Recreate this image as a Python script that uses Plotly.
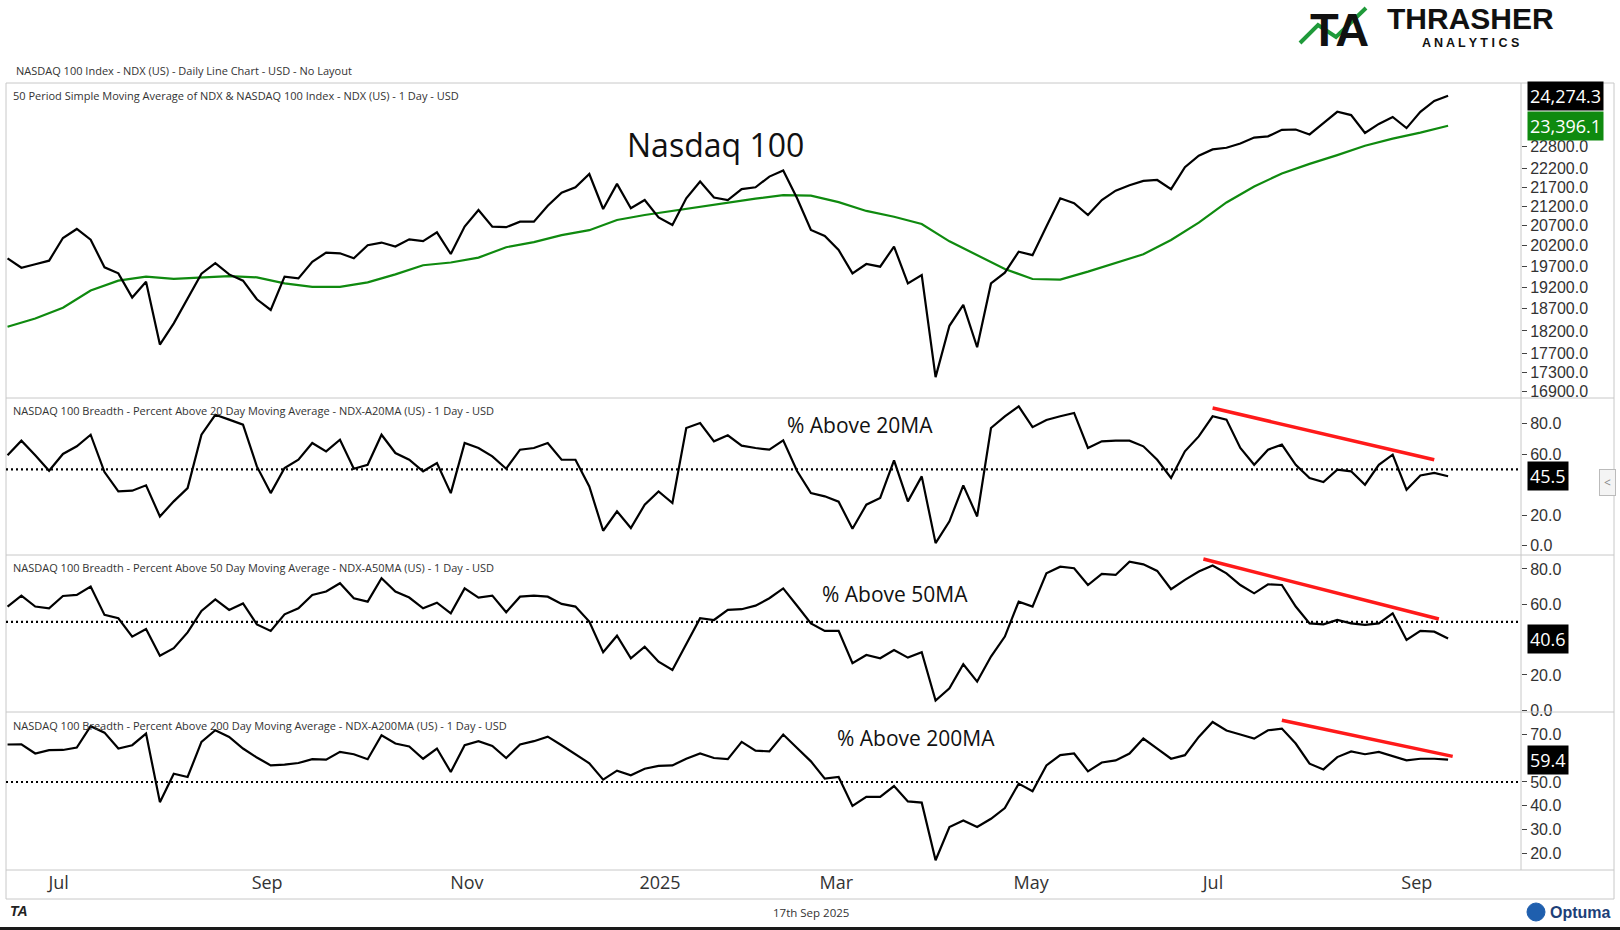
import math
import pandas as pd
import plotly.graph_objects as go
from plotly.subplots import make_subplots

# ---------------- data ----------------
holidays = ["2024-06-19", "2024-07-04", "2024-09-02", "2024-11-28", "2024-12-25",
            "2025-01-01", "2025-01-09", "2025-01-20", "2025-02-17", "2025-04-18",
            "2025-05-26", "2025-06-19", "2025-07-04", "2025-09-01"]
first_day = "2024-06-18"
last_day = "2025-09-17"
trading_days = pd.bdate_range(first_day, last_day, freq="C", holidays=holidays)
dates = trading_days[::3]          # one reading every 3 sessions
sma_dates = trading_days[::6]      # one reading every 6 sessions

ndx = [19893, 19665, 19748, 19835, 20394, 20620, 20350, 19675, 19530, 18960,
       19330, 17900, 18370, 18935, 19520, 19775, 19505, 19355, 18920, 18673,
       19450, 19410, 19810, 20030, 20015, 19893, 20215, 20280, 20180, 20360,
       20315, 20535, 19997, 20680, 21105, 20680, 20665, 20805, 20805, 21215,
       21555, 21700, 22055, 21130, 21790, 21150, 21364, 20915, 20720, 21410,
       21855, 21430, 21364, 21650, 21700, 21985, 22150, 21410, 20594, 20445,
       20096, 19530, 19755, 19690, 20180, 19290, 19490, 17200, 18315, 18790,
       17840, 19290, 19545, 20055, 19970, 20680, 21410, 21280, 20975, 21364,
       21610, 21755, 21870, 21894, 21650, 22240, 22555, 22730, 22775, 22895,
       23060, 23095, 23280, 23290, 23150, 23470, 23800, 23705, 23190, 23450,
       23650, 23330, 23800, 24120, 24274.3]

ndx_sma50 = [18295, 18480, 18725, 19125, 19355, 19450, 19400, 19435, 19465, 19435,
             19290, 19210, 19210, 19315, 19505, 19725, 19790, 19910, 20165, 20290,
             20465, 20590, 20848, 20975, 21080, 21205, 21310, 21400, 21490, 21480,
             21310, 21080, 20930, 20745, 20310, 19965, 19635, 19395, 19380, 19570,
             19775, 19990, 20343, 20780, 21300, 21720, 22070, 22330, 22570, 22830,
             23030, 23200, 23396.1]

pct_above_20 = [59.2, 68.8, 59.2, 49.1, 60.1, 65.1, 72.7, 48.2, 35.5, 36.0,
                39.5, 19.1, 29.0, 37.7, 72.7, 85.8, 82.6, 79.3, 51.9, 34.4,
                50.9, 56.3, 67.3, 61.8, 69.4, 50.4, 53.0, 72.7, 60.7, 56.3,
                48.7, 54.1, 34.4, 67.3, 64.0, 58.5, 50.4, 62.9, 64.0, 67.3,
                56.3, 56.3, 38.8, 9.7, 22.4, 11.5, 26.8, 35.5, 27.9, 77.1,
                80.4, 68.4, 72.3, 65.5, 64.0, 62.9, 69.0, 48.9, 34.4, 32.3,
                28.8, 11.0, 26.8, 31.2, 55.9, 29.0, 45.4, 1.6, 15.9, 39.5,
                19.1, 77.1, 84.8, 91.3, 77.7, 82.4, 84.8, 87.0, 64.0, 68.4,
                68.8, 68.8, 65.1, 56.3, 44.3, 61.8, 71.6, 84.8, 82.6, 64.0,
                53.0, 62.9, 66.2, 53.0, 44.3, 41.7, 49.8, 48.7, 39.9, 53.0,
                59.6, 36.6, 46.0, 47.6, 45.5]

pct_above_50 = [58.7, 64.9, 58.7, 57.7, 64.7, 65.3, 70.0, 54.0, 52.1, 41.7,
                46.0, 30.9, 35.1, 44.1, 56.2, 62.8, 56.8, 60.5, 48.6, 44.9,
                54.3, 57.7, 65.3, 67.2, 71.9, 63.4, 61.5, 74.7, 67.2, 63.8,
                57.7, 60.9, 54.9, 69.0, 63.8, 64.9, 55.5, 64.3, 64.9, 64.3,
                60.2, 58.7, 50.2, 32.8, 42.2, 29.4, 36.0, 27.5, 22.8, 37.9,
                52.1, 51.1, 56.8, 57.2, 59.2, 63.4, 69.0, 59.2, 49.2, 44.9,
                44.9, 26.6, 31.3, 29.4, 34.1, 29.8, 32.8, 5.5, 12.4, 26.0,
                16.2, 30.4, 41.7, 61.5, 58.7, 77.5, 81.3, 80.4, 70.9, 77.2,
                76.6, 84.1, 82.6, 78.9, 68.5, 73.8, 78.5, 81.9, 77.5, 70.9,
                66.2, 71.3, 70.9, 58.7, 49.2, 48.6, 51.1, 49.2, 48.3, 49.2,
                54.9, 39.8, 44.9, 44.5, 40.6]

pct_above_200 = [65.8, 65.9, 62.0, 63.4, 63.5, 64.5, 73.5, 70.8, 64.1, 65.5,
                 70.4, 41.5, 53.5, 52.1, 66.9, 71.8, 69.0, 64.1, 60.3, 57.0,
                 57.3, 58.0, 59.6, 59.4, 62.7, 61.7, 59.6, 69.7, 66.2, 65.0,
                 59.8, 64.1, 54.2, 65.5, 67.2, 65.2, 60.1, 65.8, 67.2, 69.1,
                 65.5, 61.8, 57.9, 51.0, 54.8, 52.8, 55.6, 56.8, 57.0, 59.8,
                 62.0, 60.1, 59.6, 66.9, 63.2, 62.9, 70.0, 64.3, 58.7, 51.4,
                 52.1, 39.9, 43.7, 43.7, 48.3, 41.8, 41.3, 17.0, 31.0, 33.8,
                 31.0, 34.5, 39.0, 49.3, 46.1, 57.0, 61.3, 62.0, 54.5, 58.2,
                 59.1, 62.0, 68.3, 64.1, 59.8, 61.3, 69.0, 75.3, 71.7, 70.0,
                 68.3, 71.8, 72.5, 66.2, 57.7, 55.3, 60.5, 62.9, 61.7, 62.7,
                 61.0, 59.1, 59.8, 59.8, 59.4]

# red trend lines (date, value)
trend20_x = ["2025-07-07", "2025-09-12"]
trend20_y = [90.2, 56.3]
trend50_x = ["2025-07-02", "2025-09-15"]
trend50_y = [85.6, 51.7]
trend200_x = ["2025-07-28", "2025-09-18"]
trend200_y = [76.0, 60.8]

price_ticks = [16900, 17300, 17700, 18200, 18700, 19200, 19700, 20200, 20700,
               21200, 21700, 22200, 22800]
pct20_ticks = [0, 20, 60, 80]
pct50_ticks = [0, 20, 60, 80]
pct200_ticks = [20, 30, 40, 50, 70]
month_ticks = ["2024-07-01", "2024-09-03", "2024-11-01", "2025-01-02",
               "2025-03-03", "2025-05-01", "2025-07-01", "2025-09-02"]
month_labels = ["Jul", "Sep", "Nov", "2025", "Mar", "May", "Jul", "Sep"]

# ---------------- figure ----------------
FONT = "Open Sans"
TICKFONT = "Liberation Sans"
W, H = 1620, 930
L, R, T, B = 6, 99, 83, 60
plot_w = W - L - R
plot_h = H - T - B

def px(xpix):
    return (xpix - L) / plot_w

def py(ypix):
    return (H - B - ypix) / plot_h

fig = make_subplots(rows=4, cols=1, shared_xaxes=True, vertical_spacing=0,
                    row_heights=[315, 157, 157, 158])

fig.add_trace(go.Scatter(x=sma_dates, y=ndx_sma50, mode="lines",
                         line=dict(color="#0f8a0f", width=2.2), hoverinfo="skip"), row=1, col=1)
fig.add_trace(go.Scatter(x=dates, y=ndx, mode="lines",
                         line=dict(color="black", width=2.2), hoverinfo="skip"), row=1, col=1)

fig.add_trace(go.Scatter(x=dates, y=pct_above_20, mode="lines",
                         line=dict(color="black", width=2.2), hoverinfo="skip"), row=2, col=1)
fig.add_trace(go.Scatter(x=trend20_x, y=trend20_y, mode="lines",
                         line=dict(color="#ff1a1a", width=3.5), hoverinfo="skip"), row=2, col=1)

fig.add_trace(go.Scatter(x=dates, y=pct_above_50, mode="lines",
                         line=dict(color="black", width=2.2), hoverinfo="skip"), row=3, col=1)
fig.add_trace(go.Scatter(x=trend50_x, y=trend50_y, mode="lines",
                         line=dict(color="#ff1a1a", width=3.5), hoverinfo="skip"), row=3, col=1)

fig.add_trace(go.Scatter(x=dates, y=pct_above_200, mode="lines",
                         line=dict(color="black", width=2.2), hoverinfo="skip"), row=4, col=1)
fig.add_trace(go.Scatter(x=trend200_x, y=trend200_y, mode="lines",
                         line=dict(color="#ff1a1a", width=3.5), hoverinfo="skip"), row=4, col=1)

fig.update_layout(
    width=W, height=H,
    margin=dict(l=L, r=R, t=T, b=B),
    paper_bgcolor="white", plot_bgcolor="white",
    showlegend=False,
    font=dict(family=FONT, color="#333333"),
)

x_range = ["2024-06-17 16:00", "2025-10-08 19:00"]
fig.update_xaxes(type="date", range=x_range,
                 rangebreaks=[dict(bounds=["sat", "mon"]), dict(values=holidays)],
                 showgrid=False, zeroline=False, showline=False, ticks="",
                 showticklabels=False, fixedrange=True)
fig.update_xaxes(row=4, col=1, showticklabels=True, tickmode="array",
                 tickvals=month_ticks, ticktext=month_labels,
                 ticklabelposition="outside right", ticklabelshift=4,
                 tickfont=dict(size=18, color="#333333", family=FONT))

ycommon = dict(side="right", showgrid=False, zeroline=False, showline=False,
               ticks="outside", ticklen=5, tickcolor="#444444", tickwidth=1,
               tickfont=dict(size=16, color="#333333", family=TICKFONT),
               tickformat=".1f", fixedrange=True)

d1 = (py(398), 1.0)
d2 = (py(555), py(398))
d3 = (py(712), py(555))
d4 = (0.0, py(712))

fig.update_layout(
    yaxis=dict(type="log", domain=list(d1),
               range=[math.log10(16766), math.log10(24654)],
               tickmode="array", tickvals=price_ticks, **ycommon),
    yaxis2=dict(domain=list(d2), range=[-6.2, 96.8], tickmode="array",
                tickvals=pct20_ticks, **ycommon),
    yaxis3=dict(domain=list(d3), range=[-1.0, 87.9], tickmode="array",
                tickvals=pct50_ticks, **ycommon),
    yaxis4=dict(domain=list(d4), range=[12.9, 79.5], tickmode="array",
                tickvals=pct200_ticks, **ycommon),
)

# ---------------- shapes: frame, dotted 50 lines ----------------
border = dict(color="#c8c8c8", width=1)
xr = px(1614)
shapes = []
for yy in [1.0, d1[0], d2[0], d3[0], 0.0, py(899)]:
    shapes.append(dict(type="line", xref="paper", yref="paper", x0=0, x1=xr,
                       y0=yy, y1=yy, line=border))
shapes.append(dict(type="line", xref="paper", yref="paper", x0=0, x1=0,
                   y0=py(899), y1=1.0, line=border))
shapes.append(dict(type="line", xref="paper", yref="paper", x0=1, x1=1,
                   y0=0, y1=1.0, line=border))
shapes.append(dict(type="line", xref="paper", yref="paper", x0=xr, x1=xr,
                   y0=py(899), y1=1.0, line=border))
for yref in ["y2", "y3", "y4"]:
    shapes.append(dict(type="line", xref="paper", yref=yref, x0=0, x1=1,
                       y0=50, y1=50, line=dict(color="black", width=2.2, dash="2px,3px")))
# bottom dark bar
shapes.append(dict(type="rect", xref="paper", yref="paper", x0=px(0), x1=px(1620),
                   y0=py(930), y1=py(927), line=dict(width=0), fillcolor="#1a1a1a"))
# logo accent
shapes.append(dict(type="path", xref="paper", yref="paper",
                   path=f"M {px(1300)},{py(43)} L {px(1318)},{py(25)} L {px(1336)},{py(37)} L {px(1366)},{py(8)}",
                   line=dict(color="#1f9a3a", width=4)))
# optuma icon
shapes.append(dict(type="circle", xref="paper", yref="paper", x0=px(1527), x1=px(1545),
                   y0=py(921), y1=py(903), line=dict(color="#1f5fae", width=1),
                   fillcolor="#1f5fae"))
fig.update_layout(shapes=shapes)

# ---------------- annotations ----------------
ann = []
def text(x, y, s, size, color="#333333", xanchor="left", yanchor="middle", **kw):
    ann.append(dict(xref="paper", yref="paper", x=x, y=y, text=s, showarrow=False,
                    xanchor=xanchor, yanchor=yanchor,
                    font=dict(size=size, color=color, family=kw.pop("family", FONT)), **kw))

text(px(14), py(71), "NASDAQ 100 Index - NDX (US) - Daily Line Chart - USD - No Layout", 11)
text(px(11), py(95), "50 Period Simple Moving Average of NDX &amp; NASDAQ 100 Index - NDX (US) - 1 Day - USD", 11)
text(px(11), py(410), "NASDAQ 100 Breadth - Percent Above 20 Day Moving Average - NDX-A20MA (US) - 1 Day - USD", 11)
text(px(11), py(567), "NASDAQ 100 Breadth - Percent Above 50 Day Moving Average - NDX-A50MA (US) - 1 Day - USD", 11)
text(px(11), py(725), "NASDAQ 100 Breadth - Percent Above 200 Day Moving Average - NDX-A200MA (US) - 1 Day - USD", 11)

text(px(715), py(145), "Nasdaq 100", 32, color="#111111", xanchor="center")
text(px(860), py(425), "% Above 20MA", 21, color="#111111", xanchor="center")
text(px(895), py(594), "% Above 50MA", 21, color="#111111", xanchor="center")
text(px(916), py(738), "% Above 200MA", 21, color="#111111", xanchor="center")

# logo
text(px(1339), py(1), "<b>TA</b>", 47, color="#111111", xanchor="center",
     yanchor="top", family="Liberation Sans")
text(px(1470), py(0), "<b>THRASHER</b>", 30, color="#111111", xanchor="center",
     yanchor="top", family="Liberation Sans")
text(px(1470), py(43), "<b>A N A L Y T I C S</b>", 12.5, color="#111111", xanchor="center",
     family="Liberation Sans")

# footer
text(px(8), py(911), "<b><i>TA</i></b>", 14, color="#222222", family="Liberation Sans")
text(px(811), py(912), "17th Sep 2025", 11.5, xanchor="center")
text(px(1548), py(912), "<b>Optuma</b>", 16, color="#1d3f78", family="Liberation Sans")
text(px(1607), py(483), "&lt;", 12, color="#888888", xanchor="center",
     bordercolor="#bbbbbb", borderwidth=1, bgcolor="#f4f4f4", borderpad=4)

# last value boxes
def box(yref, yval, s, bg):
    ann.append(dict(xref="paper", yref=yref, x=px(1527), y=yval, text=s, showarrow=False,
                    xanchor="left", yanchor="middle", bgcolor=bg, borderpad=2,
                    font=dict(size=18, color="white", family=FONT)))

box("y", math.log10(ndx[-1]), f"{ndx[-1]:,.1f}", "black")
box("y", math.log10(ndx_sma50[-1]), f"{ndx_sma50[-1]:,.1f}", "#0f8a0f")
box("y2", pct_above_20[-1], f"{pct_above_20[-1]:.1f}", "black")
box("y3", pct_above_50[-1], f"{pct_above_50[-1]:.1f}", "black")
box("y4", pct_above_200[-1], f"{pct_above_200[-1]:.1f}", "black")

fig.update_layout(annotations=ann)

fig.write_html("out.html", config={"displayModeBar": False},
               post_script="document.body.style.margin='0px';document.body.style.overflow='hidden';")
